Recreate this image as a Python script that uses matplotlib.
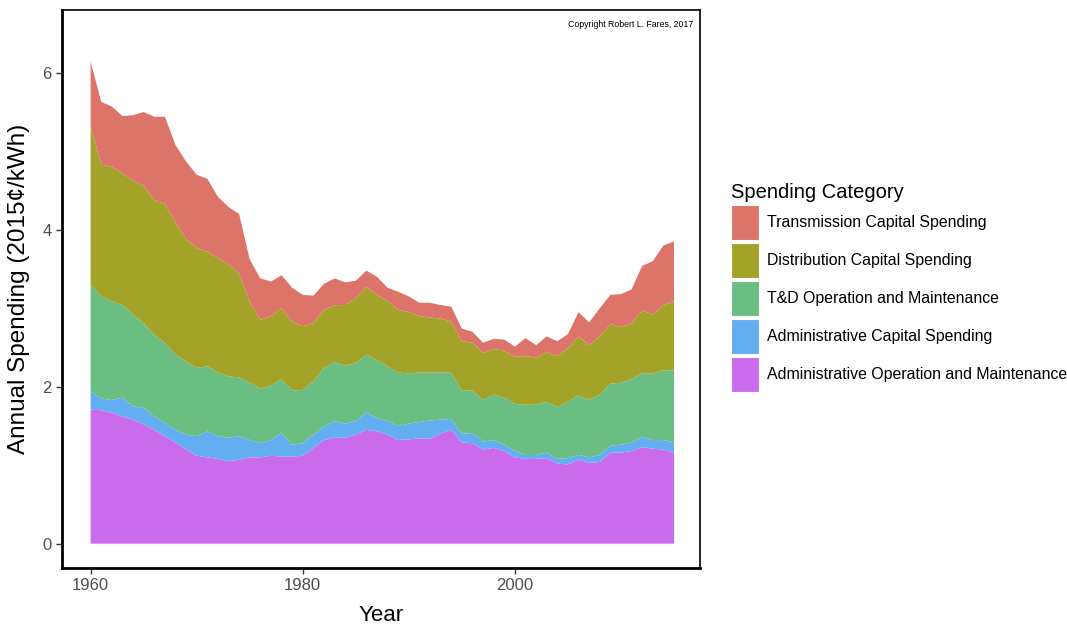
import matplotlib
matplotlib.use("Agg")
import matplotlib.pyplot as plt
from matplotlib.patches import Patch

years = list(range(1960, 2016))

adm_om = [1.71, 1.70, 1.67, 1.62, 1.58, 1.52, 1.45, 1.37, 1.29, 1.20,
          1.12, 1.10, 1.08, 1.05, 1.07, 1.10, 1.10, 1.12, 1.11, 1.11,
          1.12, 1.22, 1.32, 1.35, 1.35, 1.39, 1.45, 1.43, 1.39, 1.32,
          1.33, 1.34, 1.34, 1.40, 1.45, 1.29, 1.28, 1.20, 1.22, 1.18,
          1.10, 1.08, 1.08, 1.09, 1.02, 1.01, 1.07, 1.03, 1.04, 1.16,
          1.16, 1.18, 1.23, 1.21, 1.20, 1.16]
adm_cap = [0.23, 0.15, 0.16, 0.24, 0.17, 0.21, 0.17, 0.17, 0.16, 0.19,
           0.25, 0.33, 0.29, 0.30, 0.30, 0.22, 0.18, 0.20, 0.30, 0.15,
           0.16, 0.17, 0.17, 0.21, 0.18, 0.17, 0.22, 0.17, 0.17, 0.18,
           0.20, 0.21, 0.23, 0.18, 0.14, 0.11, 0.13, 0.10, 0.10, 0.08,
           0.08, 0.05, 0.05, 0.07, 0.06, 0.08, 0.06, 0.07, 0.09, 0.09,
           0.10, 0.11, 0.13, 0.11, 0.12, 0.13]
td_om = [1.36, 1.30, 1.26, 1.18, 1.17, 1.08, 1.04, 1.02, 0.96, 0.93,
         0.87, 0.83, 0.81, 0.78, 0.75, 0.73, 0.70, 0.69, 0.69, 0.69,
         0.68, 0.68, 0.75, 0.75, 0.74, 0.74, 0.74, 0.74, 0.70, 0.68,
         0.64, 0.63, 0.61, 0.60, 0.59, 0.55, 0.54, 0.53, 0.58, 0.60,
         0.60, 0.64, 0.64, 0.65, 0.66, 0.72, 0.76, 0.73, 0.77, 0.79,
         0.79, 0.81, 0.81, 0.85, 0.89, 0.92]
dist_cap = [2.02, 1.68, 1.71, 1.68, 1.71, 1.75, 1.72, 1.77, 1.68, 1.56,
            1.53, 1.46, 1.46, 1.43, 1.32, 1.03, 0.87, 0.89, 0.90, 0.88,
            0.81, 0.74, 0.74, 0.73, 0.77, 0.83, 0.86, 0.83, 0.83, 0.80,
            0.78, 0.72, 0.70, 0.69, 0.65, 0.63, 0.61, 0.60, 0.58, 0.60,
            0.60, 0.62, 0.60, 0.63, 0.65, 0.68, 0.75, 0.70, 0.74, 0.76,
            0.71, 0.71, 0.80, 0.75, 0.83, 0.88]
trans_cap = [0.82, 0.80, 0.77, 0.73, 0.83, 0.94, 1.06, 1.11, 0.99, 0.99,
             0.93, 0.93, 0.78, 0.73, 0.76, 0.54, 0.53, 0.44, 0.42, 0.43,
             0.40, 0.35, 0.33, 0.34, 0.29, 0.22, 0.21, 0.23, 0.17, 0.23,
             0.20, 0.17, 0.19, 0.17, 0.19, 0.16, 0.14, 0.13, 0.13, 0.14,
             0.13, 0.23, 0.16, 0.20, 0.19, 0.18, 0.31, 0.29, 0.36, 0.37,
             0.42, 0.43, 0.57, 0.68, 0.76, 0.76]

categories = ["Transmission Capital Spending",
              "Distribution Capital Spending",
              "T&D Operation and Maintenance",
              "Administrative Capital Spending",
              "Administrative Operation and Maintenance"]
colors = ["#DC7469", "#A3A229", "#6ABE82", "#62AEF0", "#CB6CEF"]

x_ticks = [1960, 1980, 2000]
y_ticks = [0, 2, 4, 6]

plt.rcParams['font.family'] = ['Liberation Sans', 'DejaVu Sans']

fig = plt.figure(figsize=(10.67, 6.27), dpi=100)
ax = fig.add_axes([62/1067, 1-568/627, (700-62)/1067, (568-10)/627])

series_bottom_up = [adm_om, adm_cap, td_om, dist_cap, trans_cap]
ax.stackplot(years, *series_bottom_up, colors=colors[::-1], linewidth=0, antialiased=True)

ax.set_xlim(1957.3, 2017.45)
ax.set_ylim(-0.31, 6.80)
ax.set_xticks(x_ticks)
ax.set_yticks(y_ticks)
ax.tick_params(axis='both', which='major', length=4, width=1, color='#333333',
               labelsize=12, labelcolor='#4d4d4d', direction='out')
for s in ['left', 'bottom']:
    ax.spines[s].set_linewidth(2.0)
    ax.spines[s].set_color('black')
for s in ['top', 'right']:
    ax.spines[s].set_linewidth(1.2)
    ax.spines[s].set_color('black')

ax.set_xlabel("Year", fontsize=16, labelpad=8)
ax.set_ylabel("Annual Spending (2015\u00a2/kWh)", fontsize=17.5, labelpad=9)

ax.text(0.989, 0.982, "Copyright Robert L. Fares, 2017", transform=ax.transAxes,
        ha='right', va='top', fontsize=6.3, color='black')

handles = [Patch(facecolor=c, edgecolor='white', linewidth=0.8) for c in colors]
leg = fig.legend(handles, categories, loc='upper left',
                 bbox_to_anchor=(723/1067, 1-175/627), frameon=False,
                 title="Spending Category", title_fontsize=14.5, fontsize=11.4,
                 handlelength=1.75, handleheight=3.0, labelspacing=0.2,
                 handletextpad=0.5, borderpad=0, alignment='left')

fig.savefig("out.png", dpi=100)
